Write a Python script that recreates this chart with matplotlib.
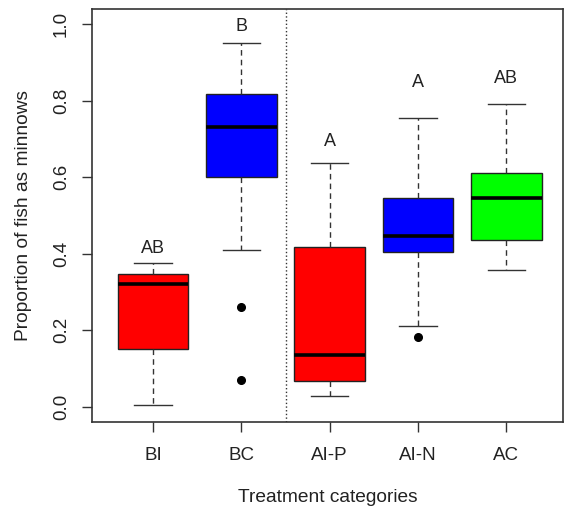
import matplotlib
matplotlib.use('Agg')
from matplotlib import pyplot as plt

# treatment categories and box statistics
categories = ['BI', 'BC', 'AI-P', 'AI-N', 'AC']
whisker_low = [0.004, 0.411, 0.028, 0.211, 0.357]
q1 = [0.150, 0.602, 0.066, 0.404, 0.436]
medians = [0.320, 0.732, 0.135, 0.447, 0.547]
q3 = [0.346, 0.817, 0.418, 0.547, 0.611]
whisker_high = [0.377, 0.951, 0.637, 0.755, 0.792]
outliers = [[], [0.262, 0.070], [], [0.182], []]
box_colors = ['#ff0000', '#0000ff', '#ff0000', '#0000ff', '#00ff00']

# significance letters and their heights
letters = ['AB', 'B', 'A', 'A', 'AB']
letter_y = [0.415, 0.995, 0.694, 0.847, 0.857]


def main():
    plt.rcParams['font.family'] = ['Liberation Sans', 'DejaVu Sans']

    fig = plt.figure(figsize=(5.65, 5.09), dpi=100)
    ax = fig.add_axes([0.1628, 0.1709, 0.8336, 0.8114])

    stats = []
    for i, name in enumerate(categories):
        stats.append(dict(label=name, med=medians[i], q1=q1[i], q3=q3[i],
                          whislo=whisker_low[i], whishi=whisker_high[i],
                          fliers=outliers[i]))

    positions = list(range(1, len(categories) + 1))
    parts = ax.bxp(stats, positions=positions, widths=0.8, patch_artist=True,
                   showfliers=True,
                   boxprops=dict(edgecolor='#222222', linewidth=1.0),
                   medianprops=dict(color='black', linewidth=2.6, solid_capstyle='butt'),
                   whiskerprops=dict(color='#333333', linewidth=1.0, linestyle=(0, (4, 3))),
                   capprops=dict(color='#333333', linewidth=1.0),
                   flierprops=dict(marker='o', markerfacecolor='black',
                                   markeredgecolor='black', markersize=5.5))
    for patch, color in zip(parts['boxes'], box_colors):
        patch.set_facecolor(color)
    for cap in parts['caps']:
        xd = cap.get_xdata()
        mid = (xd[0] + xd[1]) / 2
        cap.set_xdata([mid - 0.21, mid + 0.21])

    # separator between before / after groups
    ax.axvline(2.5, color='#333333', linestyle=':', linewidth=1.0)

    for x, txt, y in zip(positions, letters, letter_y):
        ax.text(x, y, txt, ha='center', va='center', fontsize=13, color='#222222')

    ax.set_xlim(0.31, 5.64)
    ax.set_ylim(-0.04, 1.04)
    ax.set_yticks([0.0, 0.2, 0.4, 0.6, 0.8, 1.0])
    ax.set_yticklabels(['0.0', '0.2', '0.4', '0.6', '0.8', '1.0'], rotation=90, va='center')
    ax.set_xticks(positions)
    ax.set_xticklabels(categories)

    ax.tick_params(axis='both', direction='out', length=7, width=1.0, color='#333333',
                   labelsize=13.5, labelcolor='#222222')
    ax.tick_params(axis='x', pad=11)
    ax.tick_params(axis='y', pad=9)
    for spine in ax.spines.values():
        spine.set_color('#333333')
        spine.set_linewidth(1.2)

    ax.set_xlabel('Treatment categories', fontsize=13.8, color='#222222', labelpad=18)
    ax.set_ylabel('Proportion of fish as minnows', fontsize=13.8, color='#222222', labelpad=15)

    fig.savefig('out.png', dpi=100)


if __name__ == '__main__':
    main()
